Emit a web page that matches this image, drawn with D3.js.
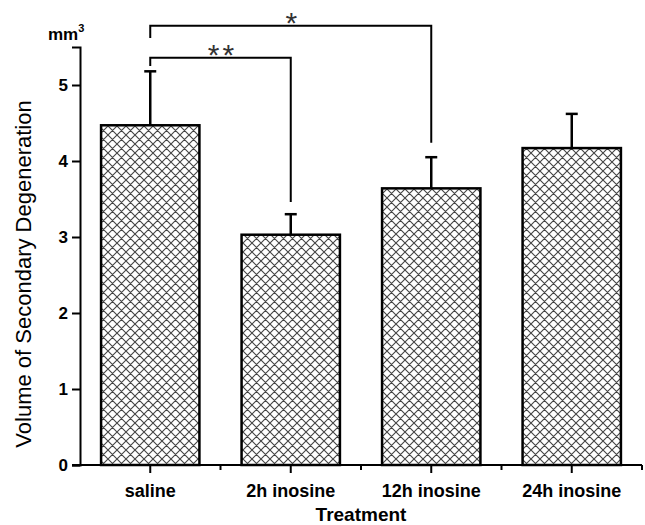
<!DOCTYPE html>
<html>
<head>
<meta charset="utf-8">
<script src="https://cdn.jsdelivr.net/npm/d3@7"></script>
<style>
  body { margin: 0; background: #fff; }
  text { font-family: "Liberation Sans", Arial, sans-serif; }
</style>
</head>
<body>
<svg id="chart" width="645" height="525"></svg>
<script>
// data
const treatments = ["saline", "2h inosine", "12h inosine", "24h inosine"];
const volumes = [4.47, 3.03, 3.64, 4.17];
const errors = [0.71, 0.27, 0.41, 0.45];
const yTicks = [0, 1, 2, 3, 4, 5];

// significance brackets: from/to category, bracket level, leg ends (value units)
const brackets = [
  { from: 0, to: 1, level: 5.36, leftEnd: 5.25, rightEnd: 3.46, label: "**" },
  { from: 0, to: 2, level: 5.78, leftEnd: 5.62, rightEnd: 4.24, label: "*" }
];

const svg = d3.select("#chart");

const x = d3.scaleBand()
  .domain(treatments)
  .range([80, 642])
  .paddingInner(0.3)
  .paddingOuter(0.15);

const y = d3.scaleLinear().domain([0, 5.5]).range([465, 47]);

// crosshatch pattern
const pat = svg.append("defs").append("pattern")
  .attr("id", "hatch")
  .attr("patternUnits", "userSpaceOnUse")
  .attr("width", 9).attr("height", 9);
pat.append("rect").attr("width", 9).attr("height", 9).attr("fill", "#fff");
pat.append("path")
  .attr("d", "M0,0L9,9M-1,8L1,10M8,-1L10,1M0,9L9,0M-1,1L1,-1M8,10L10,8")
  .attr("stroke", "#444").attr("stroke-width", 1.1);

const cx = d => x(d) + x.bandwidth() / 2;

// bars
svg.append("g").selectAll("rect")
  .data(treatments)
  .join("rect")
  .attr("x", d => x(d))
  .attr("y", (d, i) => y(volumes[i]))
  .attr("width", x.bandwidth())
  .attr("height", (d, i) => y(0) - y(volumes[i]))
  .attr("fill", "url(#hatch)")
  .attr("stroke", "#000")
  .attr("stroke-width", 2.5);

// upper error bars
const eb = svg.append("g").attr("stroke", "#000").attr("stroke-width", 2.5);
treatments.forEach((d, i) => {
  eb.append("line")
    .attr("x1", cx(d)).attr("x2", cx(d))
    .attr("y1", y(volumes[i])).attr("y2", y(volumes[i] + errors[i]));
  eb.append("line")
    .attr("x1", cx(d) - 6).attr("x2", cx(d) + 6)
    .attr("y1", y(volumes[i] + errors[i])).attr("y2", y(volumes[i] + errors[i]));
});

// y axis
const yAxis = svg.append("g").attr("transform", "translate(80,0)");
yAxis.call(d3.axisLeft(y).tickValues(d3.range(0.5, 5.6, 1)).tickSize(4).tickFormat(""));
yAxis.call(d3.axisLeft(y).tickValues(yTicks).tickSize(8).tickPadding(4).tickFormat(d3.format("d")));
yAxis.selectAll("path.domain").attr("stroke-width", 2);
yAxis.selectAll(".tick line").attr("stroke-width", 2);
yAxis.selectAll(".tick text")
  .attr("font-size", 17).attr("font-weight", "bold").attr("fill", "#000");

// x axis
const xAxis = svg.append("g").attr("transform", "translate(0,465)");
xAxis.append("line")
  .attr("x1", 72).attr("x2", 642)
  .attr("stroke", "#000").attr("stroke-width", 2);
xAxis.selectAll("line.major")
  .data(treatments)
  .join("line")
  .attr("class", "major")
  .attr("x1", cx).attr("x2", cx)
  .attr("y1", 0).attr("y2", 8)
  .attr("stroke", "#000").attr("stroke-width", 2);
xAxis.selectAll("line.minor")
  .data(treatments)
  .join("line")
  .attr("class", "minor")
  .attr("x1", d => x(d) + x.bandwidth() + x.step() * x.paddingInner() / 2)
  .attr("x2", d => x(d) + x.bandwidth() + x.step() * x.paddingInner() / 2)
  .attr("y1", 0).attr("y2", 5)
  .attr("stroke", "#000").attr("stroke-width", 2);
xAxis.selectAll("text")
  .data(treatments)
  .join("text")
  .attr("x", cx)
  .attr("y", 32)
  .attr("text-anchor", "middle")
  .attr("font-size", 18)
  .attr("font-weight", "bold")
  .text(d => d);

// axis titles
svg.append("text")
  .attr("x", 361).attr("y", 521)
  .attr("text-anchor", "middle")
  .attr("font-size", 19).attr("font-weight", "bold")
  .text("Treatment");

svg.append("text")
  .attr("transform", "translate(31,274) rotate(-90)")
  .attr("text-anchor", "middle")
  .attr("font-size", 22)
  .text("Volume of Secondary Degeneration");

const unit = svg.append("text")
  .attr("x", 48).attr("y", 40)
  .attr("font-size", 17).attr("font-weight", "bold")
  .text("mm");
unit.append("tspan").attr("dy", -8).attr("font-size", 11).text("3");

// significance brackets
const br = svg.append("g");
brackets.forEach(b => {
  const x1 = cx(treatments[b.from]), x2 = cx(treatments[b.to]);
  br.append("path")
    .attr("d", `M${x1},${y(b.leftEnd)}V${y(b.level)}H${x2}V${y(b.rightEnd)}`)
    .attr("fill", "none")
    .attr("stroke", "#000")
    .attr("stroke-width", 2);
  br.append("text")
    .attr("x", (x1 + x2) / 2 + 2)
    .attr("y", y(b.level) + 7)
    .attr("text-anchor", "middle")
    .attr("font-size", 30)
    .attr("letter-spacing", 3)
    .attr("fill", "#333")
    .text(b.label);
});
</script>
</body>
</html>
